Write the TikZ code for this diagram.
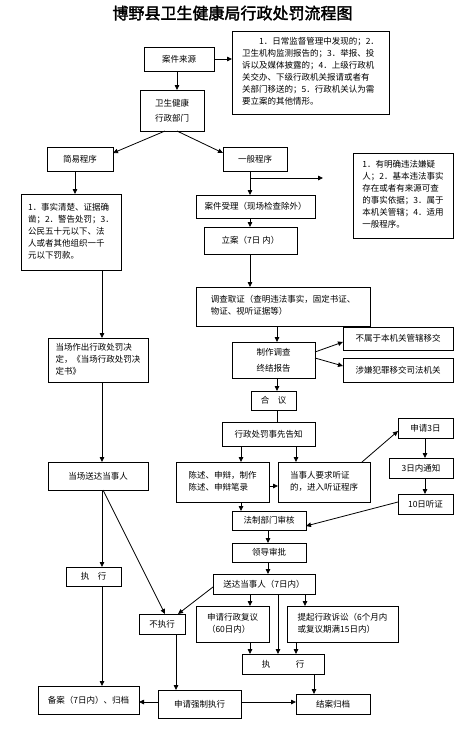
\documentclass[tikz,border=0pt]{standalone}
\usepackage{fontspec}
\setmainfont{Noto Sans CJK SC}[AutoFakeBold=2]
\usetikzlibrary{arrows.meta}
\tikzset{
 box/.style={draw, line width=0.9pt, inner sep=1pt, outer sep=0pt, font=\fontsize{8.5}{12}\selectfont, align=center},
 conn/.style={line width=0.8pt},
 arr/.style={conn, -{Triangle[length=5pt,width=4.5pt]}},
}
\newcommand{\mybx}[6]{\node[box, minimum width={#4pt-#2pt}, minimum height={#5pt-#3pt}] (#1) at ({(#2+#4)/2},{(#3+#5)/2}) {#6};}
\begin{document}
\begin{tikzpicture}[x=1pt,y=-1pt]
\useasboundingbox[fill=white] (0,0) rectangle (476,745);
\node (title) at (232.5,13) {\fontsize{16}{18}\selectfont\bfseries 博野县卫生健康局行政处罚流程图};

\mybx{src}{144}{47}{214}{71}{案件来源}
\mybx{srcnote}{232}{31}{389}{114}{\begin{tabular}{@{}l@{}}\hspace*{2em}1．日常监督管理中发现的；2．\\卫生机构监测报告的；3．举报、投\\诉以及媒体披露的；4．上级行政机\\关交办、下级行政机关报请或者有\\关部门移送的；5．行政机关认为需\\要立案的其他情形。\end{tabular}}
\mybx{dept}{140}{90}{204}{131}{卫生健康\\[3pt]行政部门}
\mybx{simple}{47}{147}{113}{171}{简易程序}
\mybx{general}{223}{147}{287}{171}{一般程序}
\mybx{simnote}{21}{194}{121}{270}{\begin{tabular}{@{}l@{}}1．事实清楚、证据确\\凿；2．警告处罚；3．\\公民五十元以下、法\\人或者其他组织一千\\元以下罚款。\end{tabular}}
\mybx{gennote}{353}{153}{453}{238}{\begin{tabular}{@{}l@{}}1．有明确违法嫌疑\\人；2．基本违法事实\\存在或者有来源可查\\的事实依据；3．属于\\本机关管辖；4．适用\\一般程序。\end{tabular}}
\mybx{accept}{196}{195}{315}{218}{案件受理（现场检查除外）}
\mybx{lian}{204}{227}{297}{254}{立案（7日 内）}
\mybx{invest}{196}{287}{370}{326}{\begin{tabular}{@{}l@{}}调查取证（查明违法事实，固定书证、\\物证、视听证据等）\end{tabular}}
\mybx{report}{232}{342}{315}{378}{制作调查\\[4pt]终结报告}
\mybx{notours}{343}{327}{453}{350}{不属于本机关管辖移交}
\mybx{crime}{343}{358}{453}{382}{涉嫌犯罪移交司法机关}
\mybx{onsite}{48}{338}{148}{382}{\begin{tabular}{@{}l@{}}当场作出行政处罚决\\定，《当场行政处罚决\\定书》\end{tabular}}
\mybx{heyi}{251}{391}{296}{410}{合\quad 议}
\mybx{inform}{222}{422}{315}{446}{行政处罚事先告知}
\mybx{state}{176}{462}{269}{502}{\begin{tabular}{@{}l@{}}陈述、申辩，制作\\陈述、申辩笔录\end{tabular}}
\mybx{hear}{278}{462}{370}{502}{\begin{tabular}{@{}l@{}}当事人要求听证\\的，进入听证程序\end{tabular}}
\mybx{apply3}{398}{418}{453}{438}{申请3日}
\mybx{notify3}{389}{458}{453}{478}{3日内通知}
\mybx{hear10}{398}{494}{453}{514}{10日听证}
\mybx{legal}{232}{511}{306}{530}{法制部门审核}
\mybx{deliver1}{48}{462}{148}{490}{当场送达当事人}
\mybx{lead}{232}{543}{306}{562}{领导审批}
\mybx{deliver2}{213}{574}{315}{594}{送达当事人（7日内）}
\mybx{exec1}{66}{567}{121}{586}{执\quad 行}
\mybx{notexec}{139}{614}{185}{634}{不执行}
\mybx{review}{196}{606}{269}{642}{\begin{tabular}{@{}l@{}}申请行政复议\\（60日内）\end{tabular}}
\mybx{sue}{287}{606}{398}{642}{\begin{tabular}{@{}l@{}}提起行政诉讼（6个月内\\或复议期满15日内）\end{tabular}}
\mybx{exec2}{242}{654}{324}{674}{执\hspace{3em}行}
\mybx{close}{296}{694}{370}{714}{结案归档}
\mybx{force}{158}{690}{241}{718}{申请强制执行}
\mybx{record}{38}{686}{139}{714}{备案（7日内）、归档}

\coordinate (bstart) at (250,178);
\coordinate (bend) at (323,178);

\draw[arr] (src.east) -- (src.east -| srcnote.west);
\draw[arr] (src.south -| 177,0) -- (dept.north -| 177,0);
\draw[arr] (dept.south -| 165,0) -- (simple.east |- 0,153);
\draw[arr] (dept.south -| 177,0) -- (general.west |- 0,153);
\draw[arr] (simple.south -| 75,0) -- (simnote.north -| 75,0);
\draw[arr] (general.south -| 250,0) -- (accept.north -| 250,0);
\draw[arr] (bstart) -- (bend);
\draw[arr] (accept.south -| 250,0) -- (lian.north -| 250,0);
\draw[arr] (lian.south -| 250,0) -- (invest.north -| 250,0);
\draw[arr] (invest.south -| 277,0) -- (report.north -| 277,0);
\draw[arr] (report.east |- 0,352) -- (notours.west |- 0,342);
\draw[arr] (report.east |- 0,358) -- (crime.west |- 0,366);
\draw[arr] (report.south -| 277,0) -- (heyi.north -| 277,0);
\draw[conn] (heyi.south -| 277,0) -- (inform.north -| 277,0);
\draw[arr] (inform.south -| 241,0) -- (state.north -| 241,0);
\draw[arr] (inform.south -| 296,0) -- (hear.north -| 296,0);
\draw[arr] (state.east |- 0,486) -- (hear.west |- 0,486);
\draw[arr] (hear.north -| 362,0) -- (apply3.west |- 0,431);
\draw[arr] (apply3.south -| 425,0) -- (notify3.north -| 425,0);
\draw[arr] (notify3.south -| 425,0) -- (hear10.north -| 425,0);
\draw[arr] (hear10.west |- 0,502) -- (legal.east |- 0,526);
\draw[arr] (state.south -| 241,0) -- (legal.north -| 241,0);
\draw[arr] (legal.south -| 268,0) -- (lead.north -| 268,0);
\draw[arr] (lead.south -| 268,0) -- (deliver2.north -| 268,0);
\draw[arr] (simnote.south -| 102,0) -- (onsite.north -| 102,0);
\draw[arr] (onsite.south -| 102,0) -- (deliver1.north -| 102,0);
\draw[arr] (deliver1.south -| 102,0) -- (exec1.north -| 102,0);
\draw[arr] (deliver1.south -| 103,0) -- (notexec.north -| 165,0);
\draw[arr] (deliver2.west |- 0,587) -- (notexec.north -| 178,0);
\draw[arr] (deliver2.south -| 250,0) -- (review.north -| 250,0);
\draw[arr] (deliver2.south -| 305,0) -- (sue.north -| 305,0);
\draw[arr] (deliver2.south -| 278,0) -- (exec2.north -| 278,0);
\draw[arr] (review.south -| 250,0) -- (exec2.north -| 250,0);
\draw[arr] (sue.south -| 296,0) -- (exec2.north -| 296,0);
\draw[arr] (exec2.south -| 314,0) -- (close.north -| 314,0);
\draw[arr] (exec1.south -| 102,0) -- (record.north -| 102,0);
\draw[arr] (notexec.south -| 176,0) -- (force.north -| 176,0);
\draw[arr] (force.east |- 0,702) -- (close.west |- 0,702);
\draw[arr] (force.west |- 0,702) -- (record.east |- 0,702);
\end{tikzpicture}
\end{document}
